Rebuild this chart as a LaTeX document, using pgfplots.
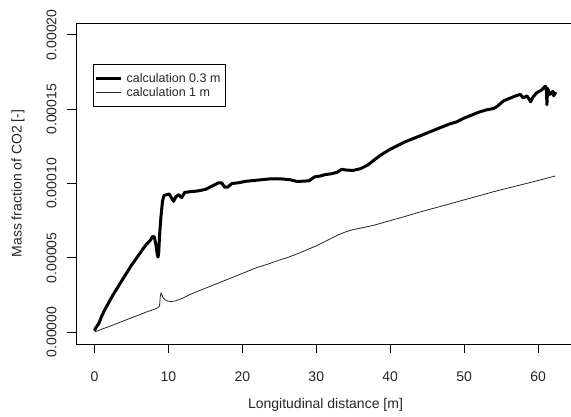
\documentclass[border=0pt]{standalone}
\usepackage{fontspec}
\setmainfont{Liberation Sans}
\usepackage{pgfplots}
\pgfplotsset{compat=1.18}
\begin{document}
\begin{tikzpicture}
\path[use as bounding box] (-76pt,-73pt) rectangle (495pt,344pt);
\begin{axis}[
  at={(0pt,0pt)}, anchor=south west,
  scale only axis, width=499pt, height=321pt,
  xmin=-2.5, xmax=65, ymin=-0.000008, ymax=0.000208,
  axis line style={line width=0.9pt},
  xtick={0,10,20,30,40,50,60},
  ytick={0,0.00005,0.0001,0.00015,0.0002},
  yticklabels={0.00000,0.00005,0.00010,0.00015,0.00020},
  scaled y ticks=false,
  tick align=outside, major tick length=9pt,
  tick style={line width=0.9pt, black},
  xtick pos=bottom, ytick pos=left,
  /pgf/number format/assume math mode=true,
  ticklabel style={font=\fontsize{14}{16}\selectfont, text=black!85},
  xticklabel style={yshift=-15pt},
  yticklabel style={xshift=-7pt, rotate=90, anchor=south},
  xlabel={Longitudinal distance [m]},
  ylabel={Mass fraction of CO2 [-]},
  every axis x label/.style={at={(axis description cs:0.5,0)}, yshift=-61pt, anchor=center,
    font=\fontsize{14}{16}\selectfont, text=black!85},
  every axis y label/.style={at={(axis description cs:0,0.5)}, xshift=-58pt, rotate=90, anchor=center,
    font=\fontsize{14}{16}\selectfont, text=black!85},
  legend style={at={(rel axis cs:0.0347,0.872)}, anchor=north west, draw=black, line width=0.8pt,
    inner xsep=1pt, inner ysep=7pt, row sep=-1pt,
    nodes={inner xsep=4pt},
    font=\fontsize{12.5}{13}\selectfont, text=black!85},
  legend cell align=left,
  legend image code/.code={\draw[#1] (0pt,0pt) -- (25pt,0pt);},
]
\addplot[black, line width=3pt, line join=round] coordinates {
(0.0,0.0000010) (0.2,0.0000030) (0.4,0.0000045) (0.6,0.0000060) (1.0,0.0000110)
(1.5,0.0000160) (2.0,0.0000205) (2.5,0.0000250) (3.0,0.0000290) (3.5,0.0000330)
(4.0,0.0000370) (4.5,0.0000410) (5.0,0.0000450) (5.5,0.0000485) (6.0,0.0000520)
(6.5,0.0000555) (7.0,0.0000590) (7.5,0.0000615) (7.9,0.0000645) (8.1,0.0000640)
(8.3,0.0000590) (8.5,0.0000520) (8.6,0.0000505) (8.7,0.0000540) (8.8,0.0000650)
(9.0,0.0000780) (9.2,0.0000880) (9.4,0.0000920) (9.8,0.0000925) (10.1,0.0000930)
(10.4,0.0000905) (10.7,0.0000880) (11.0,0.0000910) (11.4,0.0000925) (11.8,0.0000905)
(12.2,0.0000940) (13.0,0.0000945) (14.0,0.0000950) (15.0,0.0000960) (16.0,0.0000985)
(16.8,0.0001005) (17.2,0.0001005) (17.6,0.0000975) (18.0,0.0000975) (18.6,0.0001000)
(19.5,0.0001005) (20.5,0.0001015) (21.5,0.0001020) (22.5,0.0001025) (23.5,0.0001030)
(24.5,0.0001032) (25.5,0.0001030) (26.5,0.0001025) (27.3,0.0001015) (28.0,0.0001015)
(29.0,0.0001018) (29.8,0.0001045) (30.5,0.0001050) (31.2,0.0001060) (32.0,0.0001065)
(32.8,0.0001075) (33.4,0.0001095) (34.2,0.0001090) (35.0,0.0001088) (36.0,0.0001100)
(37.0,0.0001125) (38.0,0.0001165) (39.0,0.0001200) (40.0,0.0001230) (41.0,0.0001255)
(42.0,0.0001280) (43.0,0.0001300) (44.0,0.0001320) (45.0,0.0001340) (46.0,0.0001360)
(47.0,0.0001380) (48.0,0.0001400) (49.0,0.0001415) (50.0,0.0001440) (51.0,0.0001460)
(52.0,0.0001480) (53.0,0.0001495) (54.0,0.0001505) (54.5,0.0001520) (55.3,0.0001555)
(56.0,0.0001570) (57.0,0.0001590) (57.6,0.0001600) (58.0,0.0001575) (58.5,0.0001590)
(59.0,0.0001550) (59.3,0.0001580) (59.8,0.0001610) (60.5,0.0001630) (61.0,0.0001655)
(61.15,0.0001620) (61.2,0.0001530) (61.3,0.0001640) (61.6,0.0001600) (62.0,0.0001620)
(62.1,0.0001590) (62.4,0.0001615)
};
\addlegendentry{calculation 0.3 m}
\addplot[black!85, line width=0.8pt] coordinates {
(0.0,0.0000000) (1.0,0.0000020) (2.0,0.0000038) (3.0,0.0000057) (4.0,0.0000077)
(5.0,0.0000096) (6.0,0.0000115) (7.0,0.0000135) (8.0,0.0000152) (8.6,0.0000165)
(8.8,0.0000175) (8.9,0.0000240) (9.0,0.0000262) (9.3,0.0000230) (9.7,0.0000212)
(10.3,0.0000205) (11.0,0.0000210) (12.0,0.0000230) (13.0,0.0000255) (14.0,0.0000275)
(15.0,0.0000295) (16.0,0.0000315) (17.0,0.0000335) (18.0,0.0000355) (19.0,0.0000375)
(20.0,0.0000395) (21.0,0.0000415) (22.0,0.0000435) (23.0,0.0000450) (24.0,0.0000467)
(25.0,0.0000485) (26.0,0.0000500) (27.0,0.0000518) (28.0,0.0000538) (29.0,0.0000560)
(30.0,0.0000580) (31.0,0.0000605) (32.0,0.0000630) (33.0,0.0000655) (34.0,0.0000675)
(35.0,0.0000690) (36.0,0.0000700) (37.0,0.0000710) (38.0,0.0000722) (39.0,0.0000736)
(40.0,0.0000750) (42.0,0.0000778) (44.0,0.0000808) (46.0,0.0000835) (48.0,0.0000862)
(50.0,0.0000890) (52.0,0.0000917) (54.0,0.0000945) (56.0,0.0000970) (58.0,0.0000995)
(60.0,0.0001020) (62.3,0.0001050)
};
\addlegendentry{calculation 1 m}
\end{axis}
\end{tikzpicture}
\end{document}
